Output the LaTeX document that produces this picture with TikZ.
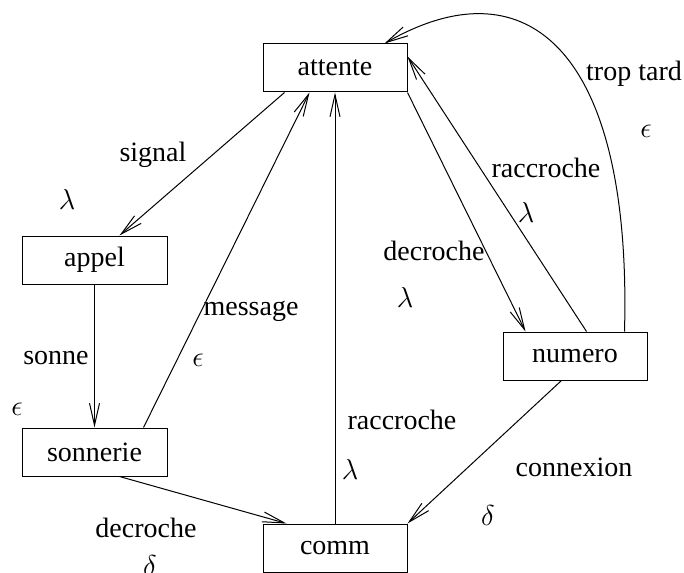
\documentclass[tikz,border=0pt]{standalone}
\usepackage{fontspec}
\setmainfont{Liberation Serif}
\usetikzlibrary{arrows.meta,calc}
\begin{document}
\begin{tikzpicture}[x=0.5pt,y=-0.5pt,
  box/.style={draw, line width=0.5pt, minimum width=72pt, minimum height=24pt, inner sep=0pt, font=\fontsize{14}{17}\selectfont},
  lbl/.style={font=\fontsize{14}{17}\selectfont, inner sep=0pt},
  arr/.style={line width=0.5pt, -{Straight Barb[length=11pt,width=5pt]}}]
\useasboundingbox (0,0) rectangle (684,572);
\node[box] (attente) at (335,68) {attente};
\node[box, minimum width=72.5pt] (appel) at (94.5,260) {appel};
\node[box, minimum width=72.5pt] (sonnerie) at (94.5,452) {sonnerie};
\node[box] (comm) at (335,548) {comm};
\node[box] (numero) at (575,356) {numero};

\draw[arr] ($(attente.south west)+(22,0)$) -- ($(appel.north east)+(-48,0)$);
\draw[arr] (appel.south) -- (sonnerie.north);
\draw[arr] ($(sonnerie.north east)+(-24,0)$) -- ($(attente.south west)+(47,0)$);
\draw[arr] (comm.north) -- (attente.south);
\draw[arr] (attente.south east) -- ($(numero.north west)+(23,0)$);
\draw[arr] ($(numero.north west)+(84,0)$) -- ($(attente.north east)+(0,13)$);
\draw[arr] ($(numero.north east)+(-23,0)$) .. controls (632,55) and (530,-40) .. ($(attente.north west)+(122,0)$);
\draw[arr] ($(sonnerie.south west)+(98,0)$) -- ($(comm.north west)+(24,0)$);
\draw[arr] ($(numero.south west)+(59,0)$) -- (comm.north east);

\node[lbl] (t1) at (153,155) {signal};
\node[lbl] (g1) at (67,200) {$\lambda$};
\node[lbl] (t2) at (56,358) {sonne};
\node[lbl] (g2) at (17,409) {$\epsilon$};
\node[lbl] (t3) at (251,311) {message};
\node[lbl] (g3) at (198,360) {$\epsilon$};
\node[lbl] (t4) at (402,420) {raccroche};
\node[lbl] (g4) at (350,469) {$\lambda$};
\node[lbl] (t5) at (434,251) {decroche};
\node[lbl] (g5) at (405,297) {$\lambda$};
\node[lbl] (t6) at (546,168) {raccroche};
\node[lbl] (g6) at (526,212) {$\lambda$};
\node[lbl] (t7) at (634,74) {trop tard};
\node[lbl] (g7) at (646,131) {$\epsilon$};
\node[lbl] (t8) at (574,467) {connexion};
\node[lbl] (g8) at (488,515) {$\delta$};
\node[lbl] (t9) at (146,528) {decroche};
\node[lbl] (g9) at (150,565) {$\delta$};
\end{tikzpicture}
\end{document}
